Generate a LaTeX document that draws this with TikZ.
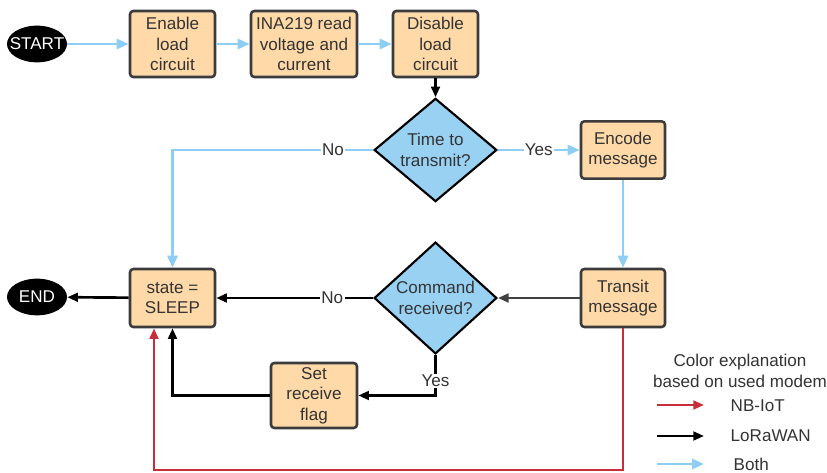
\documentclass[tikz,border=0pt]{standalone}
\usepackage{fontspec}
\setmainfont{Liberation Sans}
\usetikzlibrary{shapes.geometric,arrows.meta,calc}

\definecolor{boxfill}{RGB}{255,217,168}
\definecolor{boxline}{RGB}{59,59,59}
\definecolor{decfill}{RGB}{153,209,243}
\definecolor{bothline}{RGB}{142,205,244}
\definecolor{nbline}{RGB}{201,45,57}
\definecolor{txt}{RGB}{51,51,51}
\definecolor{grayline}{RGB}{64,64,64}

\begin{document}
\begin{tikzpicture}[x=0.75pt,y=-0.75pt,
  every node/.style={font=\fontsize{12.8}{15.4}\selectfont, text=txt},
  procbox/.style={draw=boxline, fill=boxfill, line width=1.9pt, rounded corners=2.5pt,
    inner sep=0pt, align=center},
  decision/.style={diamond, draw=black, fill=decfill, line width=1.6pt, inner sep=0pt,
    align=center, minimum width=92pt, minimum height=69pt},
  terminal/.style={ellipse, fill=black, inner sep=0pt, text=white,
    minimum width=45pt, minimum height=27.5pt},
  lab/.style={fill=white, inner sep=1pt},
  conn/.style={line width=2pt},
  bothflow/.style={conn, draw=bothline, -{Triangle[length=9pt,width=7.5pt]}},
  loraflow/.style={conn, draw=black, -{Triangle[length=8pt,width=6.5pt]}},
  grayflow/.style={conn, draw=grayline, -{Triangle[length=8pt,width=6.5pt]}},
  nbflow/.style={conn, draw=nbline, -{Triangle[length=8pt,width=6.5pt]}},
]
\useasboundingbox (0,0) rectangle (827,473);

% terminals
\node[terminal] (start) at (37,44) {\makebox[0pt]{START}};
\node[terminal] (end) at (37,297) {\makebox[0pt]{END}};

% process steps
\node[procbox, minimum width=63.75pt, minimum height=49.5pt] (enable) at (172.5,44) {Enable\\load\\circuit};
\node[procbox, minimum width=79.5pt, minimum height=49.5pt] (ina) at (304,44) {INA219 read\\voltage and\\current};
\node[procbox, minimum width=63.75pt, minimum height=49.5pt] (disable) at (435.5,44) {Disable\\load\\circuit};
\node[procbox, minimum width=63pt, minimum height=43pt] (encode) at (623,150) {Encode\\message};
\node[procbox, minimum width=63pt, minimum height=43.5pt] (transit) at (623,298) {Transit\\message};
\node[procbox, minimum width=63.75pt, minimum height=43.5pt] (sleep) at (172.5,298) {state =\\SLEEP};
\node[procbox, minimum width=64.5pt, minimum height=48.75pt] (setflag) at (314,395.5) {Set\\receive\\flag};

% decisions
\node[decision] (time) at (435.5,150) {Time to\\transmit?};
\node[decision] (cmd) at (435.5,298) {Command\\received?};

% main flow
\draw[bothflow] (start) -- (enable);
\draw[bothflow] (enable) -- (ina);
\draw[bothflow] (ina) -- (disable);
\draw[loraflow] (disable) -- (time);
\draw[bothflow] (time) -- node[lab]{Yes} (encode);
\draw[bothflow] (time.west) -- node[lab, pos=0.2]{No} (time.west -| sleep) -- (sleep);
\draw[bothflow] (encode) -- (transit);
\draw[grayflow] (transit) -- (cmd);
\draw[loraflow] (cmd) -- node[lab, pos=0.26]{No} (sleep);
\draw[loraflow] (sleep) -- (end);
\draw[loraflow] (cmd.south) -- node[lab, pos=0.64]{Yes} (cmd.south |- setflag) -- (setflag);
\draw[loraflow] (setflag) -| (sleep);

% NB-IoT return path
\coordinate (nbturn) at (154,470);
\draw[nbflow] (transit.south) |- (nbturn) -- (nbturn |- sleep.south);

% legend
\node[align=center] (legtitle) at (740,371) {Color explanation\\based on used modem};
\coordinate (nbA) at (657,405);
\coordinate (nbB) at (704,405);
\coordinate (loA) at (657,436);
\coordinate (loB) at (704,436);
\coordinate (boA) at (657,464);
\coordinate (boB) at (704,464);
\draw[nbflow] (nbA) -- (nbB);
\draw[loraflow] (loA) -- (loB);
\draw[bothflow] (boA) -- (boB);
\node[anchor=west] (nblab) at (726,406) {NB-IoT};
\node[anchor=west] (lolab) at (726,436) {LoRaWAN};
\node[anchor=west] (bolab) at (729,464) {Both};
\end{tikzpicture}
\end{document}
